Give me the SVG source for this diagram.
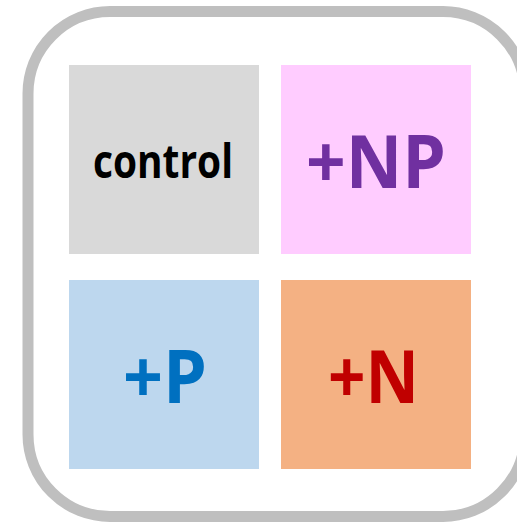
<svg xmlns="http://www.w3.org/2000/svg" width="517" height="522" viewBox="0 0 517 522">
<style>
.lbl{font-family:"Open Sans","Liberation Sans",sans-serif;font-weight:bold;text-anchor:middle}
.big{font-size:74px}
</style>
<rect width="517" height="522" fill="#ffffff"/>
<g id="frame">
<rect x="28" y="11.5" width="497" height="505" rx="82" ry="82" fill="none" stroke="#bfbfbf" stroke-width="11"/>
</g>
<g id="control">
<rect x="69" y="65" width="190" height="189" fill="#d9d9d9"/>
<text class="lbl" x="163" y="177.5" font-size="46" fill="#000000" textLength="140" lengthAdjust="spacingAndGlyphs">control</text>
</g>
<g id="np">
<rect x="281" y="65" width="190" height="189" fill="#ffccff"/>
<text class="lbl big" x="376" y="188" fill="#7030a0" textLength="140" lengthAdjust="spacingAndGlyphs">+NP</text>
</g>
<g id="p">
<rect x="69" y="280" width="190" height="189" fill="#bdd7ee"/>
<text class="lbl big" x="165" y="403" fill="#0070c0" textLength="84" lengthAdjust="spacingAndGlyphs">+P</text>
</g>
<g id="n">
<rect x="281" y="280" width="190" height="189" fill="#f4b183"/>
<text class="lbl big" x="373.5" y="403" fill="#c00000" textLength="91" lengthAdjust="spacingAndGlyphs">+N</text>
</g>
<g id="connectors"/>
</svg>
